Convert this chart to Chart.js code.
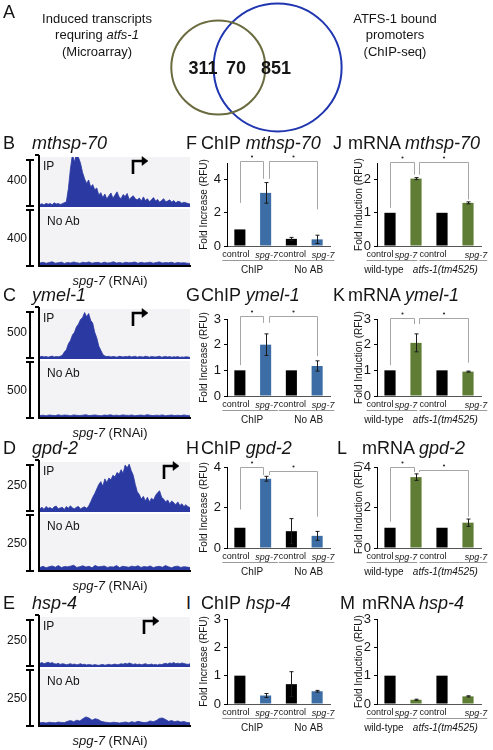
<!DOCTYPE html>
<html><head><meta charset="utf-8">
<script src="https://cdn.jsdelivr.net/npm/chart.js"></script>
<style>
body{margin:0;width:493px;height:750px;position:relative;background:#fff;font-family:"Liberation Sans",Arial,Helvetica,sans-serif;overflow:hidden}
</style></head><body>
<script>
// ================= DATA =================
// Panel A – Venn
const vennCounts = ['311', '70', '851'];
const vennLeftText = ['Induced transcripts', 'requring <i>atfs-1</i>', '(Microarray)'];
const vennRightText = ['ATFS-1 bound', 'promoters', '(ChIP-seq)'];

// Panels B–E – ChIP-seq coverage tracks
const trackGenes = ['mthsp-70', 'ymel-1', 'gpd-2', 'hsp-4'];
const trackScale = [400, 500, 250, 250];
const ipMthsp70 = [22,28,18,32,24,30,20,36,26,31,22,29,38,45,160,330,460,390,470,430,380,300,245,205,235,175,195,150,165,105,125,82,112,70,98,122,76,104,132,88,72,108,92,118,66,84,98,72,62,78,52,88,56,72,46,62,82,52,66,42,56,72,46,52,62,42,56,36,50,46,32,42,36,30,26];
const noAbMthsp70 = [18,24,15,22,28,16,20,25,14,22,18,26,20,15,24,19,27,16,21,23,15,25,18,20,28,17,22,16,24,19,21,26,15,23,18,20,25,16,22,27,17,21,19,24,15,22,18,20,16,14];
const ipYmel1 = [24,30,22,28,20,26,32,22,28,24,30,40,75,100,165,200,260,290,350,380,430,450,505,460,495,420,390,290,230,140,95,50,32,26,30,22,28,24,20,30,26,22,28,24,32,22,26,30,20,28,24,22,30,26,20,28,24,22,26,30,20,24,28,22,26,20,24,22,26,18,22,20,24,22,18];
const noAbYmel1 = [16,20,14,22,18,15,24,17,21,19,14,23,18,16,20,25,15,19,22,17,14,21,18,24,16,20,15,23,19,17,22,14,18,21,16,25,19,15,20,17,23,14,18,21,16,19,15,22,17,13];
const ipGpd2 = [18,26,14,30,20,24,16,28,32,18,22,26,14,30,20,34,22,18,26,30,16,24,28,20,32,55,80,100,125,150,165,140,180,160,185,175,200,190,215,205,230,210,255,240,260,225,200,150,110,95,70,85,60,80,55,75,65,90,105,115,80,70,55,65,45,60,50,40,55,35,45,30,40,28,24];
const noAbGpd2 = [14,20,12,18,22,15,24,13,19,17,21,26,14,18,23,16,20,12,25,17,19,22,14,18,16,24,13,20,18,15,21,17,23,14,19,16,22,13,18,20,15,24,17,12,19,21,14,18,16,13];
const ipHsp4 = [20,24,18,22,26,20,24,18,16,20,14,18,16,12,15,18,14,16,12,14,18,13,15,11,14,12,10,13,11,9,12,14,10,12,15,11,13,16,12,14,18,15,20,16,22,18,14,17,13,16,12,15,18,14,13,16,12,14,11,15,13,17,20,16,22,19,24,18,21,17,22,19,16,14,18];
const noAbHsp4 = [12,14,11,15,13,12,16,14,13,20,24,18,26,22,34,44,38,26,34,30,20,16,14,12,15,13,11,14,16,12,18,14,20,16,13,15,22,18,24,36,38,30,20,24,18,22,16,19,14,12];

// Panels F–M – bar charts
const categories = ['control', 'spg-7', 'control', 'spg-7'];
const chipGroups = ['ChIP', 'No AB'];
const mrnaGroups = ['wild-type', 'atfs-1(tm4525)'];

const chipMthsp70 = [1.0, 3.2, 0.43, 0.4];   const chipMthsp70Err = [0, 0.62, 0.09, 0.25];
const chipYmel1   = [1.0, 2.0, 1.0, 1.17];   const chipYmel1Err   = [0, 0.42, 0, 0.2];
const chipGpd2    = [1.0, 3.42, 0.83, 0.6];  const chipGpd2Err    = [0, 0.12, 0.62, 0.22];
const chipHsp4    = [1.0, 0.3, 0.7, 0.45];   const chipHsp4Err    = [0, 0.07, 0.44, 0.03];
const mrnaMthsp70 = [1.0, 2.03, 1.0, 1.3];   const mrnaMthsp70Err = [0, 0.03, 0, 0.03];
const mrnaYmel1   = [1.0, 2.07, 1.0, 0.95];  const mrnaYmel1Err   = [0, 0.35, 0, 0.02];
const mrnaGpd2    = [1.0, 3.5, 1.0, 1.25];   const mrnaGpd2Err    = [0, 0.16, 0, 0.18];
const mrnaHsp4    = [1.0, 0.15, 1.0, 0.27];  const mrnaHsp4Err    = [0, 0.02, 0, 0.02];

// significance brackets: [from bar, to bar, bracket level, left leg end, right leg end]
const sigChipMthsp70 = [[0,1,5.15,2.6,4.05],[1,3,5.15,4.05,2.2]];
const sigChipYmel1   = [[0,1,3.1,1.2,2.85],[1,3,3.1,2.85,1.55]];
const sigChipGpd2    = [[0,1,3.98,1.9,3.6],[1,3,3.8,3.6,1.55]];
const sigMrnaMthsp70 = [[0,1,2.52,1.15,2.15],[1,3,2.52,2.15,1.4]];
const sigMrnaYmel1   = [[0,1,3.02,1.2,2.8],[1,3,3.02,2.8,1.3]];
const sigMrnaGpd2    = [[0,1,3.98,1.3,3.75],[1,3,3.85,3.75,1.55]];

// axis ranges [max, step]
const chipAxes = [[5,1],[3,1],[4,2],[3,1]];
const mrnaAxes = [[2.5,1],[3,1],[4,2],[3,1]];

// ================= HELPERS =================
Chart.defaults.font.family = '"Liberation Sans", Arial, Helvetica, sans-serif';
Chart.defaults.color = '#111';
const FAM = Chart.defaults.font.family;

function el(tag, css, html){ const e=document.createElement(tag); Object.assign(e.style, css); if(html!=null) e.innerHTML=html; document.body.appendChild(e); return e; }
function text(html, x, y, size, opt={}){
  const a = opt.align||'left';
  const tx = a==='center' ? '-50%' : (a==='right' ? '-100%' : '0');
  return el('div', {position:'absolute', left:x+'px', top:y+'px', fontSize:size+'px', lineHeight:'1', whiteSpace:'nowrap',
    transform:`translate(${tx},-50%)`, fontWeight:opt.bold?'bold':'normal', fontStyle:opt.italic?'italic':'normal',
    color:opt.color||'#151515', zIndex:5}, html);
}
function canvas(x,y,w,h,bg){ const c=document.createElement('canvas'); c.width=w; c.height=h;
  Object.assign(c.style,{position:'absolute',left:x+'px',top:y+'px',width:w+'px',height:h+'px',background:bg||'transparent'});
  document.body.appendChild(c); return c; }
const svgNS='http://www.w3.org/2000/svg';
const svg=document.createElementNS(svgNS,'svg');
svg.setAttribute('width','493'); svg.setAttribute('height','750');
Object.assign(svg.style,{position:'absolute',left:'0',top:'0',zIndex:6});
function path(d, w, fill){ const p=document.createElementNS(svgNS,'path'); p.setAttribute('d',d);
  p.setAttribute('stroke','#000'); p.setAttribute('stroke-width',w); p.setAttribute('fill',fill||'none'); svg.appendChild(p); }

// ================= PANEL A =================
text('A', 3, 12, 18);
vennLeftText.forEach((t,i)=>text(t, 97, [18,34,51][i], 13, {align:'center'}));
vennRightText.forEach((t,i)=>text(t, 395, [18,34,51][i], 13, {align:'center'}));
const vc = canvas(0,0,493,135);
new Chart(vc, {type:'bubble',
  data:{datasets:[
    {data:[{x:208,y:66,r:47}], borderColor:'#6b6b40', backgroundColor:'rgba(0,0,0,0)', borderWidth:2, clip:false},
    {data:[{x:289,y:63.5,r:64}], borderColor:'#2035b0', backgroundColor:'rgba(0,0,0,0)', borderWidth:2, clip:false}]},
  options:{responsive:false, animation:false, events:[], layout:{padding:0},
    plugins:{legend:{display:false}, tooltip:{enabled:false}},
    scales:{x:{display:false,min:0,max:493}, y:{display:false,min:0,max:135,reverse:true}}}});
[203,236,276].forEach((x,i)=>text(vennCounts[i], x, 68, 18, {align:'center', bold:true}));

// ================= PANELS B–E =================
function track(data, max, x, y, w, h){
  const c = canvas(x,y,w,h,'#f3f3f6');
  new Chart(c, {type:'line',
    data:{labels:data.map((_,i)=>i), datasets:[{data, fill:'origin', backgroundColor:'#2b39a2', borderColor:'#2b39a2',
      borderWidth:0.8, pointRadius:0, tension:0}]},
    options:{responsive:false, animation:false, events:[], layout:{padding:0},
      plugins:{legend:{display:false}, tooltip:{enabled:false}},
      scales:{x:{display:false}, y:{display:false, min:0, max}}}});
}
const trackIP = [ipMthsp70, ipYmel1, ipGpd2, ipHsp4];
const trackNoAb = [noAbMthsp70, noAbYmel1, noAbGpd2, noAbHsp4];
const trackLetters = ['B','C','D','E'];
const trackHeader = [143, 295, 448, 603];
const arrowX = [133, 133, 164, 144];
trackHeader.forEach((h,r)=>{
  track(trackIP[r], trackScale[r]*50/46, 40, h+14, 150, 50);
  track(trackNoAb[r], trackScale[r]*56/46, 40, h+66, 150, 56);
  text(trackLetters[r], 3, h, 18);
  text(trackGenes[r], 32, h, 18, {italic:true});
  text('IP', 43, h+23, 12);
  text('No Ab', 47, h+78, 12);
  text(String(trackScale[r]), 17, h+37, 12, {align:'center'});
  text(String(trackScale[r]), 17, h+95, 12, {align:'center'});
  text('<i>spg-7</i> (RNAi)', 110, h+137, 13, {align:'center'});
  path(`M26 ${h+17}H34M30 ${h+17}V${h+63}M26 ${h+63}H34`, 2);
  path(`M26 ${h+67}H34M30 ${h+67}V${h+123}M26 ${h+123}H34`, 2);
  path(`M35 ${h+12}H39M39 ${h+12}V${h+123}H191`, 2);
  const ax = arrowX[r];
  path(`M${ax} ${h+31}V${h+18}H${ax+10}`, 2.6);
  path(`M${ax+9} ${h+13.5}L${ax+15} ${h+18}L${ax+9} ${h+22.5}Z`, 0.5, '#000');
});

// ================= PANELS F–M =================
const annot = {
  id:'annot',
  afterDatasetsDraw(chart, args, opts){
    const ctx = chart.ctx, meta = chart.getDatasetMeta(0), ys = chart.scales.y, vals = chart.data.datasets[0].data;
    ctx.save();
    ctx.strokeStyle = '#1a1a1a'; ctx.lineWidth = 1;
    (opts.errors||[]).forEach((e,i)=>{
      if(!e) return;
      const x = Math.round(meta.data[i].x)+0.5;
      const y1 = ys.getPixelForValue(vals[i]+e), y0 = ys.getPixelForValue(Math.max(0, vals[i]-e));
      ctx.beginPath(); ctx.moveTo(x,y0); ctx.lineTo(x,y1);
      ctx.moveTo(x-2,y1); ctx.lineTo(x+2,y1); ctx.moveTo(x-2,y0); ctx.lineTo(x+2,y0); ctx.stroke();
    });
    (opts.sig||[]).forEach(([i,j,top,lEnd,rEnd],k)=>{
      const xl = Math.round(meta.data[i].x + (k?3:0))+0.5, xr = Math.round(meta.data[j].x - (k?0:2.5))+0.5;
      const yt = Math.round(ys.getPixelForValue(top))+0.5;
      ctx.strokeStyle = '#a6a6a6';
      ctx.beginPath(); ctx.moveTo(xl, ys.getPixelForValue(lEnd)); ctx.lineTo(xl,yt); ctx.lineTo(xr,yt); ctx.lineTo(xr, ys.getPixelForValue(rEnd)); ctx.stroke();
      ctx.fillStyle = '#333'; ctx.beginPath(); ctx.arc((xl+xr)/2, yt-5, 1.1, 0, Math.PI*2); ctx.fill();
    });
    ctx.restore();
  },
  afterDraw(chart, args, opts){
    const ctx = chart.ctx, xs = chart.scales.x, bottom = chart.chartArea.bottom;
    ctx.save();
    ctx.textAlign = 'center'; ctx.textBaseline = 'middle'; ctx.fillStyle = '#151515';
    const lx = [], lw = [];
    chart.data.labels.forEach((lab,i)=>{
      ctx.font = `${i%2 ? 'italic ' : ''}9px ${FAM}`;
      lx[i] = xs.getPixelForValue(i) + opts.labelShift[i];
      lw[i] = ctx.measureText(lab).width;
      ctx.fillText(lab, lx[i], bottom+9);
    });
    opts.groups.forEach((g,gi)=>{
      const i0 = gi*2, i1 = gi*2+1;
      const l = lx[i0] - lw[i0]/2, r = lx[i1] + lw[i1]/2;
      ctx.strokeStyle = '#9a9a9a'; ctx.lineWidth = 1;
      ctx.beginPath(); ctx.moveTo(l, bottom+14.5); ctx.lineTo(r, bottom+14.5); ctx.stroke();
      ctx.font = `${opts.italicSecond && gi===1 ? 'italic ' : ''}10px ${FAM}`;
      ctx.fillText(g, (l+r)/2 + opts.groupShift, bottom+24);
    });
    ctx.restore();
  }
};

function barChart(cfg){
  const {left, top, width, height, plotL, plotR, plotT, plotB} = cfg;
  const c = canvas(left, top, width, height);
  new Chart(c, {type:'bar',
    data:{labels:categories, datasets:[{data:cfg.values, backgroundColor:['#000',cfg.color,'#000',cfg.color],
      borderWidth:0, barPercentage:0.43, categoryPercentage:1}]},
    options:{responsive:false, animation:false, events:[],
      layout:{padding:{left:0, top:plotT-top, right:left+width-plotR, bottom:0}},
      plugins:{legend:{display:false}, tooltip:{enabled:false},
        annot:{errors:cfg.errors, sig:cfg.sig, groups:cfg.groups, italicSecond:cfg.italicSecond,
          labelShift:cfg.labelShift, groupShift:cfg.groupShift}},
      scales:{
        x:{grid:{display:false, drawTicks:false}, border:{display:true, color:'#555', width:1},
          ticks:{display:false},
          afterFit:(s)=>{ s.height = top+height-plotB; }},
        y:{min:0, max:cfg.max,
          ticks:{stepSize:cfg.step, padding:3, color:'#151515', font:{size:13}},
          afterBuildTicks:(s)=>{ s.ticks = s.ticks.filter(t=>Math.abs(t.value/cfg.step - Math.round(t.value/cfg.step))<1e-6); },
          grid:{drawOnChartArea:false, drawTicks:true, tickLength:3, color:'#000'},
          border:{display:true, color:'#000', width:1},
          title:{display:true, text:cfg.yTitle, font:{size:10}, padding:{top:3, bottom:0}, color:'#151515'},
          afterFit:(s)=>{ s.width = plotL-left; }}
      }},
    plugins:[annot]});
}

const rowTitleY = [143, 295, 448, 603];
const rowPlotT = [163, 319, 467, 619];
const rowPlotB = [246, 396, 548, 704];
const chipVals = [chipMthsp70, chipYmel1, chipGpd2, chipHsp4];
const chipErrs = [chipMthsp70Err, chipYmel1Err, chipGpd2Err, chipHsp4Err];
const chipSigs = [sigChipMthsp70, sigChipYmel1, sigChipGpd2, []];
const mrnaVals = [mrnaMthsp70, mrnaYmel1, mrnaGpd2, mrnaHsp4];
const mrnaErrs = [mrnaMthsp70Err, mrnaYmel1Err, mrnaGpd2Err, mrnaHsp4Err];
const mrnaSigs = [sigMrnaMthsp70, sigMrnaYmel1, sigMrnaGpd2, []];
const chipLetters = ['F','G','H','I'], mrnaLetters = ['J','K','L','M'];
const mrnaLetterX = [333,333,337,340], mrnaTitleX = [348,348,362,362];

rowTitleY.forEach((ty,r)=>{
  const pT = rowPlotT[r], pB = rowPlotB[r];
  barChart({left:195, top:pT-24, width:145, height:pB+34-(pT-24), plotL:227, plotR:330, plotT:pT, plotB:pB,
    values:chipVals[r], errors:chipErrs[r], sig:chipSigs[r], color:'#3c6da5', max:chipAxes[r][0], step:chipAxes[r][1],
    groups:chipGroups, italicSecond:false, yTitle:'Fold Increase (RFU)', labelShift:[-4,1,1,6], groupShift:2});
  barChart({left:350, top:pT-24, width:143, height:pB+34-(pT-24), plotL:377, plotR:481, plotT:pT, plotB:pB,
    values:mrnaVals[r], errors:mrnaErrs[r], sig:mrnaSigs[r], color:'#5f7d34', max:mrnaAxes[r][0], step:mrnaAxes[r][1],
    groups:mrnaGroups, italicSecond:true, yTitle:'Fold Induction (RFU)', labelShift:[-10,-10,-9,8], groupShift:-8});
  text(chipLetters[r], 186, ty, 18);
  text('ChIP <i>' + trackGenes[r] + '</i>', 201, ty, 18);
  text(mrnaLetters[r], mrnaLetterX[r], ty, 18);
  text('mRNA <i>' + trackGenes[r] + '</i>', mrnaTitleX[r], ty, 18);
});

document.body.appendChild(svg);
</script>
</body></html>
